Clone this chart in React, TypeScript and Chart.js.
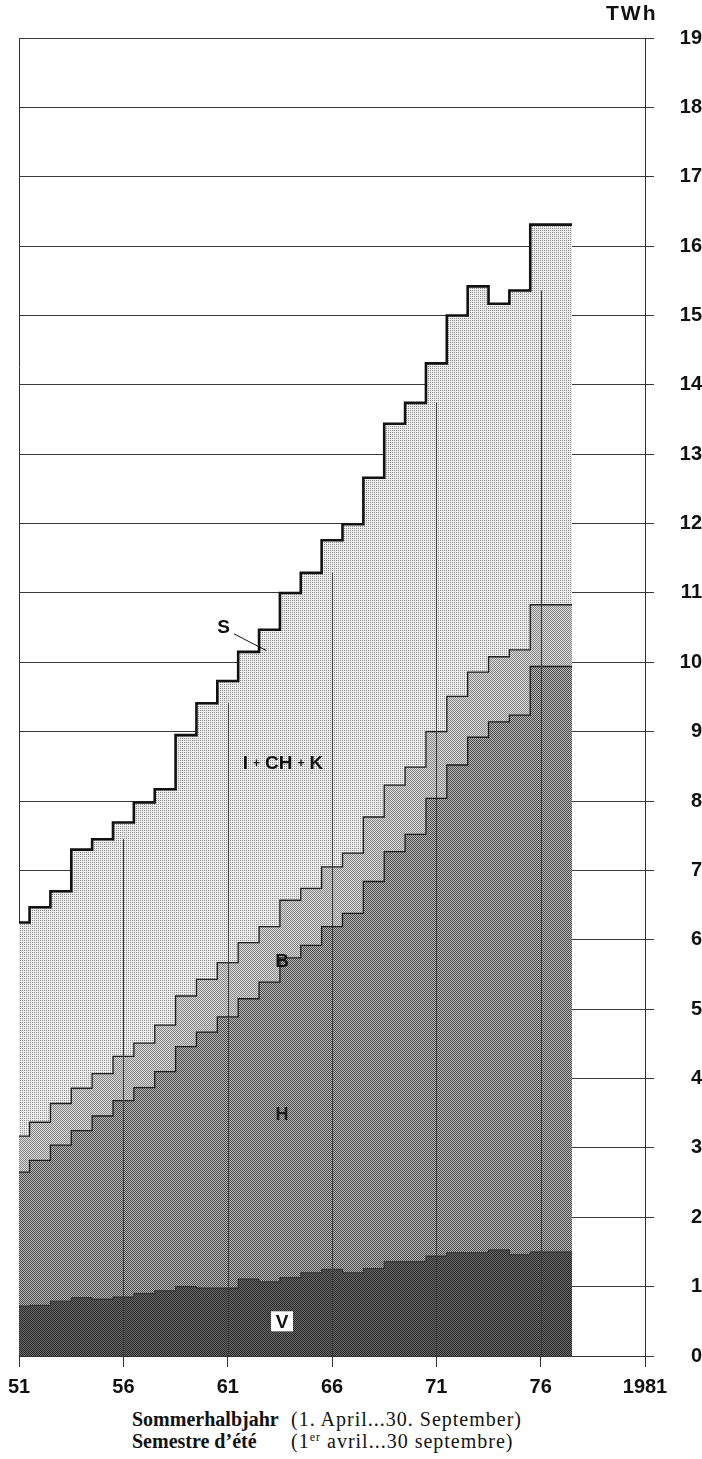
import React, { useEffect, useRef } from 'react';
import { Chart, registerables } from 'chart.js';

Chart.register(...registerables);

// ---- data ----
const years = [
  1951, 1952, 1953, 1954, 1955, 1956, 1957, 1958, 1959, 1960,
  1961, 1962, 1963, 1964, 1965, 1966, 1967, 1968, 1969, 1970,
  1971, 1972, 1973, 1974, 1975, 1976, 1977,
];
const xTickLabels = ['51', '56', '61', '66', '71', '76', '1981'];

// upper boundary of each stacked band (TWh)
const vTop = [0.66, 0.72, 0.73, 0.79, 0.84, 0.82, 0.85, 0.9, 0.94, 1.0, 0.98, 0.98, 1.11, 1.07, 1.13, 1.2, 1.25, 1.2, 1.26, 1.36, 1.36, 1.44, 1.49, 1.49, 1.53, 1.46, 1.5];
const hTop = [2.49, 2.65, 2.82, 3.04, 3.25, 3.46, 3.68, 3.87, 4.1, 4.46, 4.67, 4.89, 5.15, 5.39, 5.74, 5.92, 6.19, 6.38, 6.84, 7.27, 7.52, 8.04, 8.52, 8.92, 9.14, 9.24, 9.94];
const bTop = [3.0, 3.17, 3.37, 3.64, 3.86, 4.07, 4.32, 4.51, 4.77, 5.19, 5.43, 5.67, 5.96, 6.19, 6.57, 6.74, 7.05, 7.25, 7.77, 8.23, 8.49, 9.0, 9.51, 9.86, 10.08, 10.18, 10.83];
const sTotal = [6.2, 6.25, 6.47, 6.7, 7.3, 7.45, 7.69, 7.98, 8.17, 8.95, 9.41, 9.73, 10.15, 10.47, 11.0, 11.29, 11.76, 11.99, 12.66, 13.44, 13.74, 14.31, 15.0, 15.42, 15.17, 15.36, 16.31];

// text annotations placed in data units
const regionLabels = [
  { text: 'B', year: 1963.6, value: 5.68, color: '#141414', size: 19 },
  { text: 'H', year: 1963.6, value: 3.47, color: '#1e1e1e', size: 18 },
];

function stepPoints(tops: number[]) {
  const pts = years.map((yr, i) => ({ x: yr - 0.5, y: tops[i] }));
  pts.push({ x: years[years.length - 1] + 0.5, y: tops[tops.length - 1] });
  return pts;
}

function makePattern(bg: string, fg: string, size: number, cells: number[][]) {
  const c = document.createElement('canvas');
  c.width = size;
  c.height = size;
  const g = c.getContext('2d')!;
  g.fillStyle = bg;
  g.fillRect(0, 0, size, size);
  g.fillStyle = fg;
  cells.forEach(([x, y]) => g.fillRect(x, y, 1, 1));
  return g.createPattern(c, 'repeat')!;
}

const SANS = '"Liberation Sans", Arial, Helvetica, sans-serif';

export default function App() {
  const ref = useRef<HTMLCanvasElement>(null);

  useEffect(() => {
    const canvas = ref.current!;
    const patLight = makePattern('#ededed', '#8c8c8c', 2, [[0, 0]]);
    const patB = makePattern('#dedede', '#828282', 2, [[0, 0], [1, 1]]);
    const patH = makePattern('#bbbbbb', '#474747', 2, [[0, 0], [1, 1]]);
    const patV = makePattern('#6a6a6a', '#282828', 2, [[0, 0], [1, 1]]);

    const overlay = {
      id: 'overlay',
      afterDatasetsDraw(chart: any) {
        const { ctx, scales } = chart;
        const xs = scales.x;
        const ys = scales.y;
        ctx.save();
        ctx.strokeStyle = '#3a3a3a';
        ctx.lineWidth = 1;
        xs.ticks.forEach((t: any) => {
          if (t.value <= xs.min || t.value >= xs.max) return;
          const idx = years.indexOf(Math.round(t.value));
          if (idx < 0) return;
          const px = Math.round(xs.getPixelForValue(t.value)) + 0.5;
          ctx.beginPath();
          ctx.moveTo(px, ys.getPixelForValue(0));
          ctx.lineTo(px, ys.getPixelForValue(sTotal[idx]));
          ctx.stroke();
        });
        ctx.restore();
      },
      afterDraw(chart: any) {
        const { ctx, scales } = chart;
        const xs = scales.x;
        const ys = scales.y;
        const X = (v: number) => xs.getPixelForValue(v);
        const Y = (v: number) => ys.getPixelForValue(v);
        ctx.save();
        ctx.textBaseline = 'middle';

        // unit
        ctx.fillStyle = '#111';
        ctx.font = `bold 21px ${SANS}`;
        ctx.textAlign = 'left';
        (ctx as any).letterSpacing = '2px';
        ctx.fillText('TWh', 606, 14);
        (ctx as any).letterSpacing = '0px';

        // S label with leader line
        ctx.textAlign = 'center';
        ctx.font = `bold 19px ${SANS}`;
        ctx.fillText('S', X(1960.8), Y(10.5));
        ctx.strokeStyle = '#111';
        ctx.lineWidth = 1;
        ctx.beginPath();
        ctx.moveTo(X(1961.3), Y(10.41));
        ctx.lineTo(X(1962.85), Y(10.17));
        ctx.stroke();

        // I+CH+K
        const parts: [string, number][] = [['I', 19], ['+', 12], ['CH', 19], ['+', 12], ['K', 19]];
        const gap = 5;
        let total = 0;
        parts.forEach(([t, s]) => {
          ctx.font = `bold ${s}px ${SANS}`;
          total += ctx.measureText(t).width;
        });
        total += gap * (parts.length - 1);
        let cx = X(1963.65) - total / 2;
        ctx.textAlign = 'left';
        ctx.fillStyle = '#111';
        parts.forEach(([t, s]) => {
          ctx.font = `bold ${s}px ${SANS}`;
          ctx.fillText(t, cx, Y(8.54));
          cx += ctx.measureText(t).width + gap;
        });

        // B, H
        ctx.textAlign = 'center';
        regionLabels.forEach((l) => {
          ctx.fillStyle = l.color;
          ctx.font = `bold ${l.size}px ${SANS}`;
          ctx.fillText(l.text, X(l.year), Y(l.value));
        });

        // V in white box
        const vx = X(1963.6);
        const vy = Y(0.5);
        ctx.fillStyle = '#ffffff';
        ctx.fillRect(vx - 11, vy - 10, 22, 20);
        ctx.fillStyle = '#111';
        ctx.font = `bold 19px ${SANS}`;
        ctx.fillText('V', vx, vy + 1);
        ctx.restore();
      },
    };

    const chart = new Chart(canvas, {
      type: 'line',
      data: {
        datasets: [
          {
            label: 'V',
            data: stepPoints(vTop),
            stepped: 'after',
            fill: 'origin',
            backgroundColor: patV,
            borderColor: '#2a2a2a',
            borderWidth: 1,
            pointRadius: 0,
          },
          {
            label: 'H',
            data: stepPoints(hTop),
            stepped: 'after',
            fill: '-1',
            backgroundColor: patH,
            borderColor: '#1e1e1e',
            borderWidth: 1.3,
            pointRadius: 0,
          },
          {
            label: 'B',
            data: stepPoints(bTop),
            stepped: 'after',
            fill: '-1',
            backgroundColor: patB,
            borderColor: '#1e1e1e',
            borderWidth: 1.3,
            pointRadius: 0,
          },
          {
            label: 'S',
            data: stepPoints(sTotal),
            stepped: 'after',
            fill: '-1',
            backgroundColor: patLight,
            borderColor: '#111',
            borderWidth: 2.6,
            pointRadius: 0,
          },
        ],
      } as any,
      options: {
        responsive: false,
        devicePixelRatio: 1,
        animation: false,
        events: [],
        layout: { padding: { left: 17, top: 38, right: 0, bottom: 0 } },
        plugins: { legend: { display: false }, tooltip: { enabled: false } },
        scales: {
          x: {
            type: 'linear',
            min: 1951,
            max: 1981,
            z: 1,
            afterFit: (s: any) => {
              s.height = 49;
            },
            ticks: {
              stepSize: 5,
              autoSkip: false,
              maxRotation: 0,
              padding: 8,
              color: '#111',
              font: { family: SANS, size: 20, weight: 'bold' },
              callback: (_v: any, i: number) => xTickLabels[i],
            },
            grid: {
              color: (c: any) =>
                c.tick && (c.tick.value === 1951 || c.tick.value === 1981) ? '#333' : 'rgba(0,0,0,0)',
              tickColor: '#333',
              lineWidth: 1,
              tickLength: 11,
            },
            border: { display: true, color: '#333', width: 1 },
          },
          y: {
            type: 'linear',
            position: 'right',
            min: 0,
            max: 19,
            z: 1,
            afterFit: (s: any) => {
              s.width = 57;
            },
            ticks: {
              stepSize: 1,
              padding: 12,
              crossAlign: 'far',
              color: '#111',
              font: { family: SANS, size: 20, weight: 'bold' },
            },
            grid: { color: '#3a3a3a', lineWidth: 1, tickLength: 9 },
            border: { display: true, color: '#333', width: 1 },
          },
        },
      } as any,
      plugins: [overlay],
    });
    return () => chart.destroy();
  }, []);

  const serif = '"Liberation Serif", "Times New Roman", serif';
  const lineStyle: React.CSSProperties = {
    position: 'absolute',
    fontFamily: serif,
    fontSize: 20,
    lineHeight: '20px',
    color: '#111',
    whiteSpace: 'nowrap',
  };
  return (
    <div style={{ position: 'absolute', left: 0, top: 0, width: 702, height: 1459, background: '#fff' }}>
      <canvas ref={ref} width={702} height={1405} style={{ display: 'block', width: 702, height: 1405 }} />
      <div style={{ ...lineStyle, left: 132, top: 1409, fontWeight: 'bold' }}>Sommerhalbjahr</div>
      <div style={{ ...lineStyle, left: 291, top: 1409, letterSpacing: 1 }}>(1. April...30. September)</div>
      <div style={{ ...lineStyle, left: 132, top: 1431, fontWeight: 'bold' }}>Semestre d’été</div>
      <div style={{ ...lineStyle, left: 291, top: 1431, letterSpacing: 1 }}>
        (1<sup style={{ fontSize: 12, lineHeight: 0, verticalAlign: 7 }}>er</sup> avril...30 septembre)
      </div>
    </div>
  );
}
